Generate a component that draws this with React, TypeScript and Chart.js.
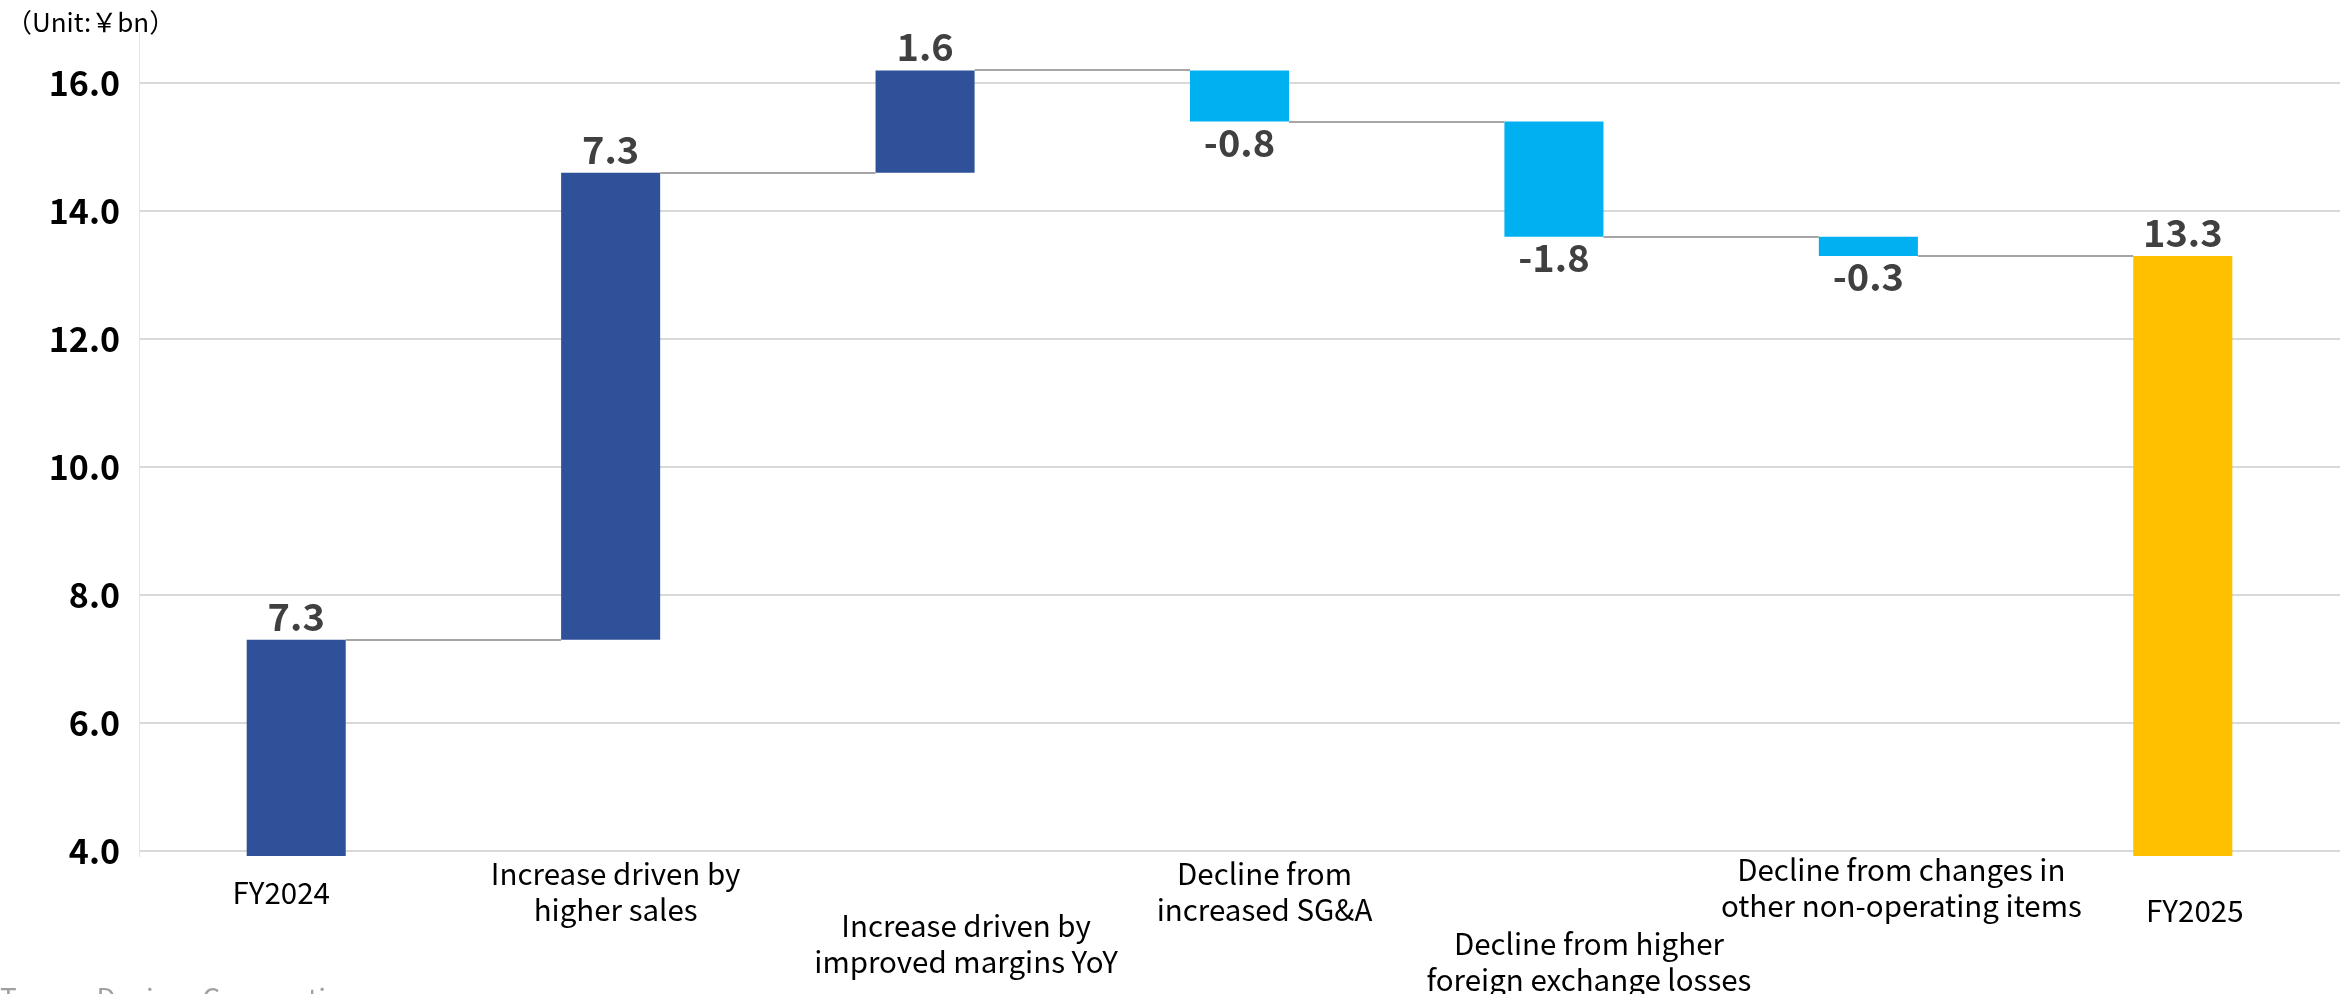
import React, { useEffect, useRef } from 'react';
import { Chart, registerables } from 'chart.js';

Chart.register(...registerables);

// ---- data ----
const categories: string[][] = [
  ['FY2024'],
  ['Increase driven by', 'higher sales'],
  ['Increase driven by', 'improved margins YoY'],
  ['Decline from', 'increased SG&A'],
  ['Decline from higher', 'foreign exchange losses'],
  ['Decline from changes in', 'other non-operating items'],
  ['FY2025'],
];
const changes = [7.3, 7.3, 1.6, -0.8, -1.8, -0.3, 13.3];
const isTotal = [true, false, false, false, false, false, true];
const yTicks = [4, 6, 8, 10, 12, 14, 16];
const unitLabel = '（Unit:￥bn）';
const footerText = 'Tomen Devices Corporation';

// ---- layout / style ----
const FONT = "'Noto Sans CJK JP', 'Noto Sans', sans-serif";
const LABEL_DX = [-15, 5, 41, 25, 35, 33, 12];
const LABEL_DY = [37, 18, 70, 18, 88, 14, 55];
const DARK = '#2F5199';
const LIGHT = '#00B0F0';
const GOLD = '#FFC000';

// derived floating ranges and running levels
const levels: number[] = [];
const ranges: [number, number][] = [];
{
  let run = 0;
  changes.forEach((c, i) => {
    if (isTotal[i]) {
      run = c;
      ranges.push([0, c]);
    } else {
      const start = run;
      run = Math.round((run + c) * 100) / 100;
      ranges.push([Math.min(start, run), Math.max(start, run)]);
    }
    levels.push(run);
  });
}
const colors = changes.map((c, i) =>
  i === changes.length - 1 ? GOLD : c < 0 ? LIGHT : DARK
);

const overlay = {
  id: 'overlay',
  afterDatasetsDraw(chart: any) {
    const ctx = chart.ctx as CanvasRenderingContext2D;
    const meta = chart.getDatasetMeta(0);
    const ys = chart.scales.y;
    const xs = chart.scales.x;
    const area = chart.chartArea;
    ctx.save();
    // connectors
    ctx.strokeStyle = '#A6A6A6';
    ctx.lineWidth = 2;
    for (let i = 0; i < changes.length - 1; i++) {
      const a = meta.data[i];
      const b = meta.data[i + 1];
      const py = Math.round(ys.getPixelForValue(levels[i]));
      ctx.beginPath();
      ctx.moveTo(a.x + a.width / 2, py);
      ctx.lineTo(b.x - b.width / 2, py);
      ctx.stroke();
    }
    // value labels
    ctx.fillStyle = '#404040';
    ctx.font = `bold 38px ${FONT}`;
    ctx.textAlign = 'center';
    ctx.textBaseline = 'alphabetic';
    changes.forEach((c, i) => {
      const el = meta.data[i];
      const txt = c.toFixed(1);
      if (c >= 0) {
        const top = ys.getPixelForValue(ranges[i][1]);
        ctx.fillText(txt, el.x, top - 9);
      } else {
        const bot = ys.getPixelForValue(ranges[i][0]);
        ctx.fillText(txt, el.x, bot + 35);
      }
    });
    // category labels
    ctx.fillStyle = '#000000';
    ctx.font = `29.5px ${FONT}`;
    ctx.textBaseline = 'middle';
    categories.forEach((lines, i) => {
      const cx = xs.getPixelForValue(i) + LABEL_DX[i];
      lines.forEach((ln, k) => {
        ctx.fillText(ln, cx, area.bottom + LABEL_DY[i] + k * 35.5);
      });
    });
    // unit label
    ctx.textAlign = 'left';
    ctx.font = `26px ${FONT}`;
    ctx.fillText(unitLabel, 6, 22);
    // footer (cut off by the page edge)
    ctx.fillStyle = '#A0A0A0';
    ctx.font = `28px ${FONT}`;
    ctx.textBaseline = 'top';
    ctx.fillText(footerText, 0, 984);
    ctx.restore();
  },
};

export default function App() {
  const ref = useRef<HTMLCanvasElement | null>(null);
  useEffect(() => {
    if (!ref.current) return;
    const chart = new Chart(ref.current, {
      type: 'bar',
      data: {
        labels: categories.map((l) => l.join(' ')),
        datasets: [
          {
            data: ranges as any,
            backgroundColor: colors,
            borderWidth: 0,
            barPercentage: 0.315,
            categoryPercentage: 1,
            clip: 0 as any,
          },
        ],
      },
      options: {
        responsive: false,
        animation: false,
        events: [],
        layout: { padding: { left: 0, right: 6, top: 32, bottom: 138 } },
        plugins: {
          legend: { display: false },
          tooltip: { enabled: false },
          title: { display: false },
        },
        scales: {
          x: { display: false },
          y: {
            min: 3.92,
            max: 16.8,
            afterFit: (s: any) => {
              s.width = 139;
              s.paddingTop = 0;
              s.paddingBottom = 0;
            },
            afterBuildTicks: (s: any) => {
              s.ticks = yTicks.map((v) => ({ value: v }));
            },
            grid: { color: '#D9D9D9', lineWidth: 2, drawTicks: false },
            border: { display: true, color: '#E3E3E3', width: 1 },
            ticks: {
              padding: 19,
              color: '#000000',
              font: { family: FONT, size: 34, weight: 'bold', lineHeight: 0.6 },
              callback: (v: any) => Number(v).toFixed(1),
            },
          },
        },
      },
      plugins: [overlay],
    });
    return () => chart.destroy();
  }, []);
  return (
    <div style={{ position: 'fixed', left: 0, top: 0, width: 2346, height: 994, background: '#fff' }}>
      <canvas ref={ref} width={2346} height={994} style={{ width: 2346, height: 994 }} />
    </div>
  );
}
